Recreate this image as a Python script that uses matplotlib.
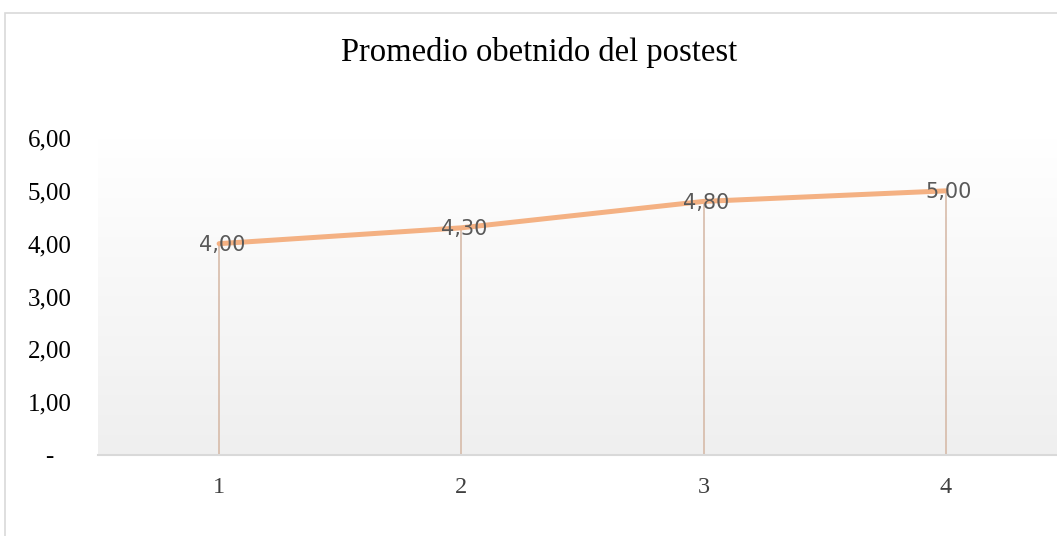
import numpy as np
import matplotlib
matplotlib.use("Agg")
import matplotlib.pyplot as plt
from matplotlib.patches import Rectangle

categories = ["1", "2", "3", "4"]
values = [4.00, 4.30, 4.80, 5.00]
value_labels = ["4,00", "4,30", "4,80", "5,00"]
yticks = [0, 1, 2, 3, 4, 5, 6]
ytick_labels = ["-", "1,00", "2,00", "3,00", "4,00", "5,00", "6,00"]
title = "Promedio obetnido del postest"

W, H = 1057, 536
fig = plt.figure(figsize=(W / 100, H / 100), dpi=100)

# chart border
fig.patches.append(Rectangle((5 / W, -0.1), 1.2, (H - 13) / H + 0.1,
                             transform=fig.transFigure, fill=False,
                             edgecolor="#d9d9d9", linewidth=1.2))

ax_left, ax_right = 98, 1067
ax_bottom, ax_top = 455, 138
ax = fig.add_axes([ax_left / W, (H - ax_bottom) / H,
                   (ax_right - ax_left) / W, (ax_bottom - ax_top) / H])

x = np.arange(1, len(categories) + 1)
ax.set_xlim(0.5, len(categories) + 0.5)
ax.set_ylim(0, 6)

# gradient background
grad = np.linspace(1.0, 0.0, 256).reshape(-1, 1)
top_c = np.array([1.0, 1.0, 1.0])
bot_c = np.array([0xef, 0xef, 0xef]) / 255
img = top_c * grad[..., None] + bot_c * (1 - grad[..., None])
ax.imshow(img, aspect="auto", extent=(0.5, len(categories) + 0.5, 0, 6),
          origin="upper", zorder=0)

# drop lines
ax.vlines(x, 0, values, colors="#d4b6a3", linewidth=1.1, zorder=2)
# main line
ax.plot(x, values, color="#f4b183", linewidth=3.6, solid_capstyle="round", zorder=3)

for xi, v, lab in zip(x, values, value_labels):
    ax.text(xi + 0.012, v - 0.03, lab, ha="center", va="center", fontsize=15,
            family="DejaVu Sans", color="#595959", zorder=4)

for s in ["top", "right", "left"]:
    ax.spines[s].set_visible(False)
ax.spines["bottom"].set_color("#d9d9d9")
ax.spines["bottom"].set_linewidth(1.5)

ax.set_xticks(x)
ax.set_xticklabels(categories, family="Liberation Serif", fontsize=17.5, color="#404040")
ax.tick_params(axis="x", length=0, pad=16)
ax.set_yticks(yticks)
ax.set_yticklabels(ytick_labels, family="Liberation Serif", fontsize=18, color="#000000")
for t in ax.get_yticklabels():
    t.set_ha("center")
ax.tick_params(axis="y", length=0, pad=35)

fig.text(539 / W, (H - 53) / H, title, ha="center", va="center",
         family="Liberation Serif", fontsize=23.5, color="#000000")

fig.savefig("out.png", dpi=100)
